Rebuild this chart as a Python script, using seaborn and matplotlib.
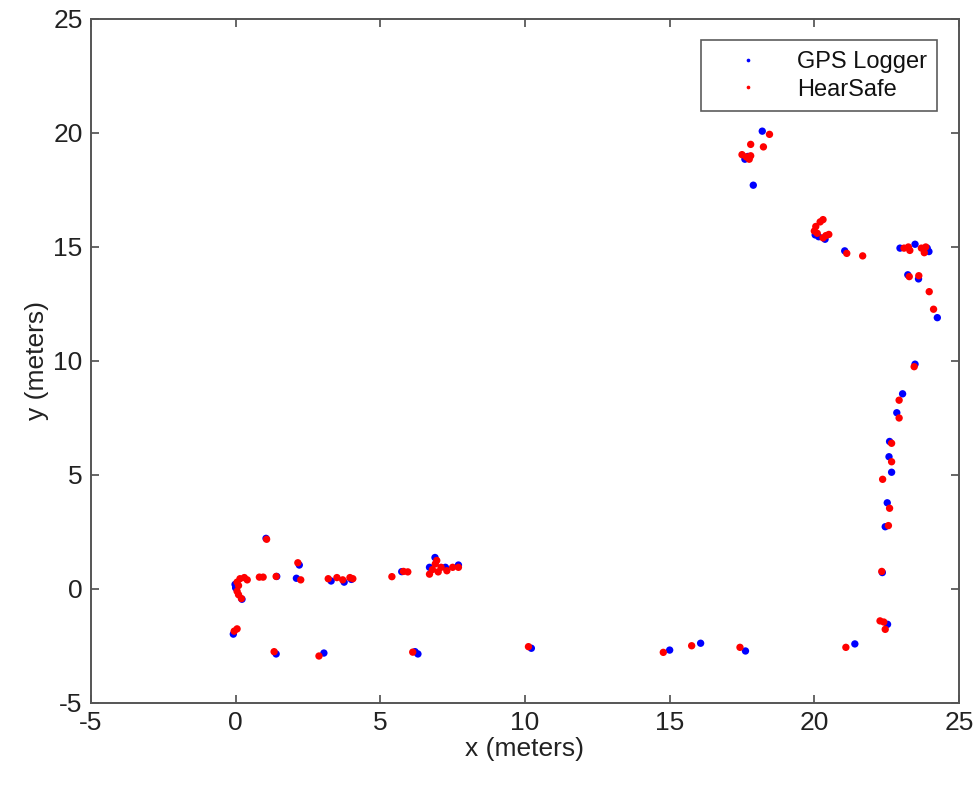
import matplotlib
matplotlib.use("Agg")
import matplotlib.pyplot as plt
import seaborn as sns
import pandas as pd

# GPS Logger points (blue)
gps_x = [1.05, 2.2, 0.0, -0.02, 0.22, 1.42, 2.1, 3.3, 3.75, 4.0, 5.74, 6.89, 6.7, 7.25, 7.7,
         -0.08, 1.4, 3.05, 6.2, 6.3, 10.22, 15.0, 16.07, 17.62, 21.4, 22.53, 22.35, 22.45,
         22.52, 22.67, 22.58, 22.6, 22.85, 23.05, 23.48, 24.25, 23.6, 23.23, 22.96, 23.48,
         23.9, 23.96, 21.05, 20.03, 20.37, 20.15, 17.89, 17.7, 17.6, 18.2]
gps_y = [2.22, 1.05, 0.05, 0.2, -0.45, 0.55, 0.47, 0.35, 0.3, 0.42, 0.76, 1.38, 0.95, 0.95, 1.05,
         -1.98, -2.85, -2.81, -2.75, -2.85, -2.6, -2.68, -2.38, -2.72, -2.41, -1.55, 0.72, 2.73,
         3.78, 5.12, 5.8, 6.47, 7.73, 8.56, 9.86, 11.9, 13.6, 13.78, 14.95, 15.12,
         14.95, 14.8, 14.83, 15.53, 15.34, 15.45, 17.71, 18.97, 18.85, 20.08]

# HearSafe points (red)
hs_x = [1.07, 2.15, 2.25, 0.05, 0.15, 0.3, 0.4, 0.1, 0.05, 0.1, 0.2,
        0.82, 0.95, 1.4, 3.2, 3.5, 3.7, 3.95, 4.05, 5.4, 5.8, 5.95,
        6.7, 6.8, 6.9, 7.0, 7.1, 7.3, 7.5, 7.7, 6.95,
        0.05, -0.05, 1.33, 2.88, 6.12, 10.12, 14.78, 15.76, 17.43, 21.09,
        22.27, 22.45, 22.4, 22.33, 22.56, 22.6, 22.36, 22.67, 22.67, 22.93, 22.93, 23.45,
        24.12, 23.97, 23.61, 23.28, 23.1, 23.25, 23.3, 23.7, 23.8, 23.85,
        21.12, 21.67, 20.0, 20.05, 20.2, 20.3, 20.1, 20.4, 20.5, 20.3,
        17.5, 17.65, 17.75, 17.8, 17.8, 18.24, 18.45]
hs_y = [2.18, 1.15, 0.4, 0.3, 0.45, 0.5, 0.4, 0.15, -0.1, -0.25, -0.42,
        0.52, 0.52, 0.55, 0.45, 0.5, 0.4, 0.5, 0.45, 0.54, 0.77, 0.75,
        0.65, 0.85, 1.1, 0.75, 0.95, 0.8, 0.95, 0.95, 1.25,
        -1.75, -1.85, -2.75, -2.94, -2.77, -2.53, -2.78, -2.49, -2.56, -2.56,
        -1.4, -1.77, -1.45, 0.77, 2.78, 3.54, 4.81, 5.58, 6.39, 7.5, 8.28, 9.75,
        12.27, 13.04, 13.74, 13.7, 14.95, 15.0, 14.85, 14.95, 14.75, 15.0,
        14.72, 14.61, 15.7, 15.9, 16.1, 16.2, 15.6, 15.5, 15.55, 15.4,
        19.05, 18.95, 18.85, 19.0, 19.5, 19.39, 19.94]

series_names = ["GPS Logger", "HearSafe"]

df = pd.concat([
    pd.DataFrame({"x": gps_x, "y": gps_y, "source": series_names[0]}),
    pd.DataFrame({"x": hs_x, "y": hs_y, "source": series_names[1]}),
], ignore_index=True)

sns.set_style("white")
plt.rcParams["font.family"] = ["Liberation Sans", "DejaVu Sans"]
plt.rcParams["axes.unicode_minus"] = False

fig = plt.figure(figsize=(9.76, 7.88), dpi=100)
ax = fig.add_axes([0.0932, 0.1079, 0.8894, 0.868])

sns.scatterplot(data=df, x="x", y="y", hue="source",
                palette={"GPS Logger": "#0000ff", "HearSafe": "#ff0000"},
                s=28, linewidth=0, marker="o", ax=ax, legend=True)

ax.set_xlim(-5, 25)
ax.set_ylim(-5, 25)
ax.set_xticks(range(-5, 26, 5))
ax.set_yticks(range(-5, 26, 5))
ax.tick_params(direction="in", length=6, width=1.2, colors="#4d4d4d",
               labelcolor="#222222", labelsize=19, top=True, right=True,
               bottom=True, left=True, pad=6)
for sp in ax.spines.values():
    sp.set_visible(True)
    sp.set_color("#555555")
    sp.set_linewidth(1.4)

ax.set_xlabel("x (meters)", fontsize=19, color="#222222", labelpad=1)
ax.set_ylabel("y (meters)", fontsize=19, color="#222222", labelpad=3)

leg = ax.legend(loc="upper right", bbox_to_anchor=(0.9752, 0.969), fontsize=17,
                frameon=True, fancybox=False, markerscale=0.5,
                handletextpad=0.5, borderpad=0.45, labelspacing=0.25,
                handlelength=3.1, borderaxespad=0.0)
leg.get_frame().set_edgecolor("#333333")
leg.get_frame().set_linewidth(1.2)
for t in leg.get_texts():
    t.set_color("#111111")

fig.savefig("out.png", dpi=100)
